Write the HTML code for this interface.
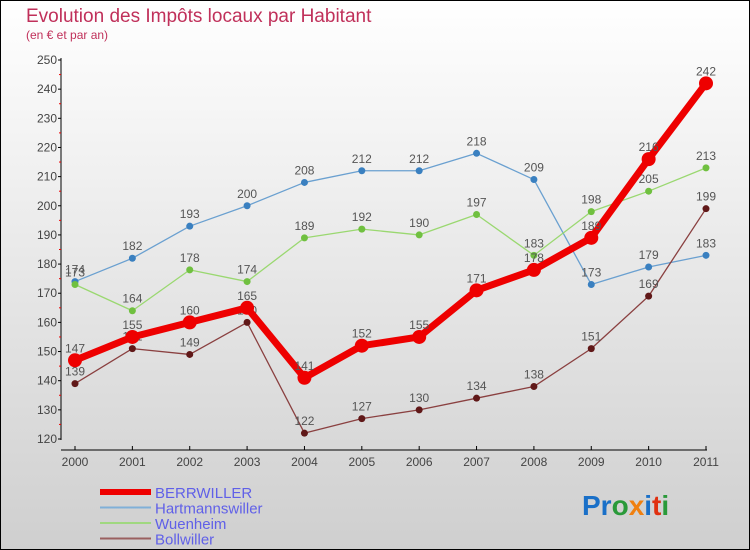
<!DOCTYPE html>
<html><head><meta charset="utf-8"><style>
body{margin:0;}
#wrap{width:750px;height:550px;position:relative;overflow:hidden;}
text{font-family:"Liberation Sans",sans-serif;}
</style></head><body>
<div id="wrap">
<svg id="chart" width="750" height="550" xmlns="http://www.w3.org/2000/svg">
<defs><linearGradient id="bg" x1="0" y1="0" x2="0" y2="1"><stop offset="0" stop-color="#ffffff"/><stop offset="1" stop-color="#cfcfcf"/></linearGradient></defs>
<rect x="0.5" y="0.5" width="749" height="549" fill="url(#bg)" stroke="#000"/>
<text x="26" y="22" font-size="19" fill="#c0305a">Evolution des Impôts locaux par Habitant</text>
<text x="26" y="39" font-size="12" fill="#c0305a">(en € et par an)</text>
<g id="axes"></g>
<g id="series"></g>
<g id="legend"></g>
<text x="582" y="515" font-size="28" font-weight="bold"><tspan fill="#1a70c8">Pr</tspan><tspan fill="#2a9a3a">o</tspan><tspan fill="#f08010">x</tspan><tspan fill="#1a70c8">i</tspan><tspan fill="#e03010">t</tspan><tspan fill="#2a9a3a">i</tspan></text>
</svg>
</div>
<script>
const years=["2000","2001","2002","2003","2004","2005","2006","2007","2008","2009","2010","2011"];
const berrwiller=[147,155,160,165,141,152,155,171,178,189,216,242];
const hartmannswiller=[174,182,193,200,208,212,212,218,209,173,179,183];
const wuenheim=[173,164,178,174,189,192,190,197,183,198,205,213];
const bollwiller=[139,151,149,160,122,127,130,134,138,151,169,199];
const yTicks=[120,130,140,150,160,170,180,190,200,210,220,230,240,250];
const seriesNames=["BERRWILLER","Hartmannswiller","Wuenheim","Bollwiller"];

const NS="http://www.w3.org/2000/svg";
function x(i){return 75+i*(706-75)/11;}
function y(v){return 439-(v-120)*(439-60)/130;}
function mk(tag,attrs,parent){const e=document.createElementNS(NS,tag);for(const k in attrs)e.setAttribute(k,attrs[k]);parent.appendChild(e);return e;}
const axes=document.getElementById('axes');
let a=mk('line',{x1:61,y1:58,x2:61,y2:440,stroke:'#000','stroke-width':1},axes);


a=mk('line',{x1:61,y1:450,x2:707,y2:450,stroke:'#000','stroke-width':1},axes);


yTicks.forEach((v,i)=>{
  mk('line',{x1:58,x2:61,y1:y(v),y2:y(v),stroke:'#000'},axes);
  if(i<yTicks.length-1){mk('line',{x1:59,x2:61,y1:y(v+5),y2:y(v+5),stroke:'#e00'},axes);}
  const t=mk('text',{x:57,y:y(v)+4,'font-size':12,fill:'#444','text-anchor':'end'},axes);
  t.textContent=v;
  
  
});
years.forEach((yr,i)=>{
  mk('line',{x1:x(i),x2:x(i),y1:446,y2:450,stroke:'#000'},axes);
  const t=mk('text',{x:x(i),y:466,'font-size':12,fill:'#444','text-anchor':'middle'},axes);
  t.textContent=yr;
  
  
});
const sg=document.getElementById('series');
const defs=[
 {d:hartmannswiller,c:'#6aa0d0',dot:'#3a80c0',w:1.3,r:3.5,name:'hartmannswiller'},
 {d:wuenheim,c:'#9ad870',dot:'#70c040',w:1.3,r:3.5,name:'wuenheim'},
 {d:bollwiller,c:'#8a4040',dot:'#601818',w:1.3,r:3.5,name:'bollwiller'},
 {d:berrwiller,c:'#ee0000',dot:'#ee0000',w:7,r:7,name:'berrwiller'}
];
defs.forEach(s=>{
  const g=mk('g',{},sg);
  
  
  const p=mk('polyline',{points:s.d.map((v,i)=>x(i)+','+y(v)).join(' '),fill:'none',stroke:s.c,'stroke-width':s.w,'stroke-linejoin':'round'},g);
  
  
  s.d.forEach((v,i)=>{
    const c=mk('circle',{cx:x(i),cy:y(v),r:s.r,fill:s.dot},g);
    
    
    const t=mk('text',{x:x(i),y:y(v)-8,'font-size':12,fill:'#555','text-anchor':'middle'},g);
    t.textContent=v;
    
    
  });
});
const lg=document.getElementById('legend');
const lc=[['#ee0000',6],['#80b0d8',2],['#a0d880',2],['#9a6060',2]];
seriesNames.forEach((n,i)=>{
  const yy=492+i*15.5;
  const l=mk('line',{x1:100,x2:151,y1:yy,y2:yy,stroke:lc[i][0],'stroke-width':lc[i][1]},lg);
  
  
  const t=mk('text',{x:155,y:yy+6,'font-size':15,fill:'#6060e8'},lg);
  t.textContent=n;
  
  
});
</script>
</body></html>
